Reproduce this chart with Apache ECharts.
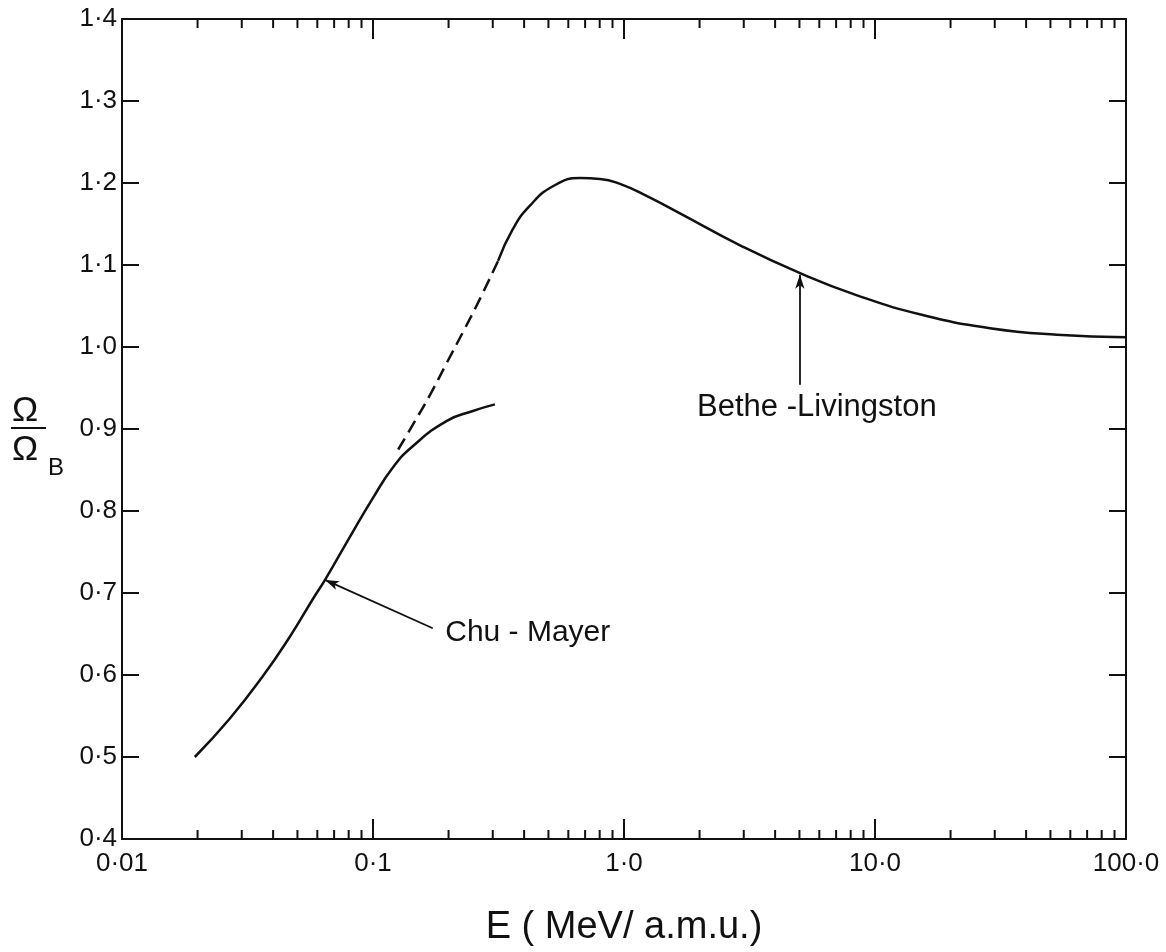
<!DOCTYPE html>
<html>
<head>
<meta charset="utf-8">
<script src="https://cdn.jsdelivr.net/npm/echarts@6/dist/echarts.min.js"></script>
<style>
html,body{margin:0;padding:0;background:#fff;}
#chart{width:1166px;height:952px;}
</style>
</head>
<body>
<div id="chart"></div>
<script>
// ---- data ----
const chuMayerE   = [0.0195, 0.0269, 0.0365, 0.0467, 0.0577, 0.0644, 0.0787, 0.100, 0.120, 0.144, 0.197, 0.250, 0.306];
const chuMayerR   = [0.500, 0.547, 0.599, 0.647, 0.693, 0.716, 0.762, 0.816, 0.853, 0.879, 0.910, 0.922, 0.930];

const betheDashE  = [0.126, 0.144, 0.169, 0.197, 0.229, 0.267, 0.315];
const betheDashR  = [0.875, 0.905, 0.942, 0.981, 1.019, 1.059, 1.105];

const betheE      = [0.315, 0.361, 0.421, 0.521, 0.668, 0.802, 0.964, 1.235, 1.671, 2.90, 5.03, 8.48, 15.5, 28.7, 53.1, 100];
const betheR      = [1.105, 1.144, 1.172, 1.196, 1.206, 1.205, 1.199, 1.184, 1.163, 1.124, 1.090, 1.063, 1.039, 1.023, 1.015, 1.012];

const xTickLabels = ['0·01', '0·1', '1·0', '10·0', '100·0'];
const minorTickValues = [0.02,0.03,0.04,0.05,0.06,0.07,0.08,0.09,
                         0.2,0.3,0.4,0.5,0.6,0.7,0.8,0.9,
                         2,3,4,5,6,7,8,9,
                         20,30,40,50,60,70,80,90];

// annotations (data coordinates)
const chuMayerArrow = [[0.173, 0.657], [0.0644, 0.716]];
const chuMayerLabel = [0.194, 0.651];
const betheArrow    = [[5.02, 0.954], [5.02, 1.088]];
const betheLabel    = [1.955, 0.926];

const INK = '#111';
const FONT = 'Liberation Sans';

const zip = (a, b) => a.map((v, i) => [v, b[i]]);

const chart = echarts.init(document.getElementById('chart'), null, {renderer: 'canvas'});

const xAxisBase = {
  type: 'log', logBase: 10, min: 0.01, max: 100, splitNumber: 4,
  axisLine: {show: true, onZero: false, lineStyle: {color: INK, width: 2}},
  axisTick: {show: true, inside: true, length: 20, lineStyle: {color: INK, width: 2}},
  splitLine: {show: false},
  minorTick: {show: false}
};
const yAxisBase = {
  type: 'value', min: 0.4, max: 1.4, interval: 0.1,
  axisLine: {show: true, onZero: false, lineStyle: {color: INK, width: 2}},
  axisTick: {show: true, inside: true, length: 17, lineStyle: {color: INK, width: 2}},
  splitLine: {show: false}
};

chart.setOption({
  animation: false,
  backgroundColor: '#fff',
  grid: {left: 122, right: 40, top: 19, bottom: 108, containLabel: false},
  xAxis: [
    Object.assign({}, xAxisBase, {
      position: 'bottom',
      axisLabel: {
        show: true, margin: 12, color: INK, fontSize: 26, fontFamily: FONT,
        formatter: v => xTickLabels[Math.round(Math.log10(v)) + 2] || ''
      },
      name: 'E ( MeV/ a.m.u.)', nameLocation: 'middle', nameGap: 70,
      nameTextStyle: {color: INK, fontSize: 38, fontFamily: FONT}
    }),
    Object.assign({}, xAxisBase, {position: 'top', axisLabel: {show: false}})
  ],
  yAxis: [
    Object.assign({}, yAxisBase, {
      position: 'left',
      axisLabel: {
        show: true, margin: 5, color: INK, fontSize: 26, fontFamily: FONT,
        formatter: v => v.toFixed(1).replace('.', '·')
      }
    }),
    Object.assign({}, yAxisBase, {position: 'right', axisLabel: {show: false}})
  ],
  graphic: [
    {type: 'text', left: 12, top: 394, style: {text: 'Ω', fontSize: 35, fontFamily: FONT, fill: INK}},
    {type: 'rect', left: 11, top: 427, shape: {width: 35, height: 2}, style: {fill: INK}},
    {type: 'text', left: 12, top: 433, style: {text: 'Ω', fontSize: 35, fontFamily: FONT, fill: INK}},
    {type: 'text', left: 48, top: 456, style: {text: 'B', fontSize: 24, fontFamily: FONT, fill: INK}}
  ],
  series: [
    {
      name: 'Chu-Mayer', type: 'line', xAxisIndex: 0, yAxisIndex: 0,
      data: zip(chuMayerE, chuMayerR), smooth: true, showSymbol: false,
      lineStyle: {color: INK, width: 2.5}, z: 3
    },
    {
      name: 'Bethe-Livingston (extrapolated)', type: 'line', xAxisIndex: 0, yAxisIndex: 0,
      data: zip(betheDashE, betheDashR), smooth: true, showSymbol: false,
      lineStyle: {color: INK, width: 2.5, type: [13, 7]}, z: 3
    },
    {
      name: 'Bethe-Livingston', type: 'line', xAxisIndex: 0, yAxisIndex: 0,
      data: zip(betheE, betheR), smooth: true, showSymbol: false,
      lineStyle: {color: INK, width: 2.5}, z: 3,
      markLine: {
        silent: true, animation: false,
        label: {show: false},
        lineStyle: {color: INK, width: 1.8, type: 'solid', opacity: 1},
        symbolSize: [7, 14],
        data: [
          [{coord: chuMayerArrow[0], symbol: 'none'}, {coord: chuMayerArrow[1], symbol: 'arrow'}],
          [{coord: betheArrow[0], symbol: 'none'}, {coord: betheArrow[1], symbol: 'arrow'}]
        ]
      }
    },
    {
      name: 'labels', type: 'scatter', xAxisIndex: 0, yAxisIndex: 0,
      symbolSize: 0, silent: true,
      itemStyle: {opacity: 1},
      data: [
        {value: chuMayerLabel, label: {formatter: 'Chu - Mayer'}},
        {value: betheLabel, label: {formatter: 'Bethe -Livingston', fontSize: 31}}
      ],
      label: {show: true, position: 'right', distance: 0, color: INK, opacity: 1, fontSize: 30, fontFamily: FONT}
    },
    {
      name: 'minor ticks', type: 'custom', xAxisIndex: 0, yAxisIndex: 0, silent: true, clip: false,
      data: minorTickValues.map(v => [v, 0.4]),
      encode: {x: 0, y: 1},
      renderItem: function (params, api) {
        const x = api.value(0);
        const b = api.coord([x, 0.4]);
        const t = api.coord([x, 1.4]);
        return {
          type: 'group',
          children: [
            {type: 'line', shape: {x1: b[0], y1: b[1], x2: b[0], y2: b[1] - 9}, style: {stroke: INK, lineWidth: 2}},
            {type: 'line', shape: {x1: t[0], y1: t[1], x2: t[0], y2: t[1] + 9}, style: {stroke: INK, lineWidth: 2}}
          ]
        };
      },
      z: 4
    }
  ]
});
</script>
</body>
</html>
